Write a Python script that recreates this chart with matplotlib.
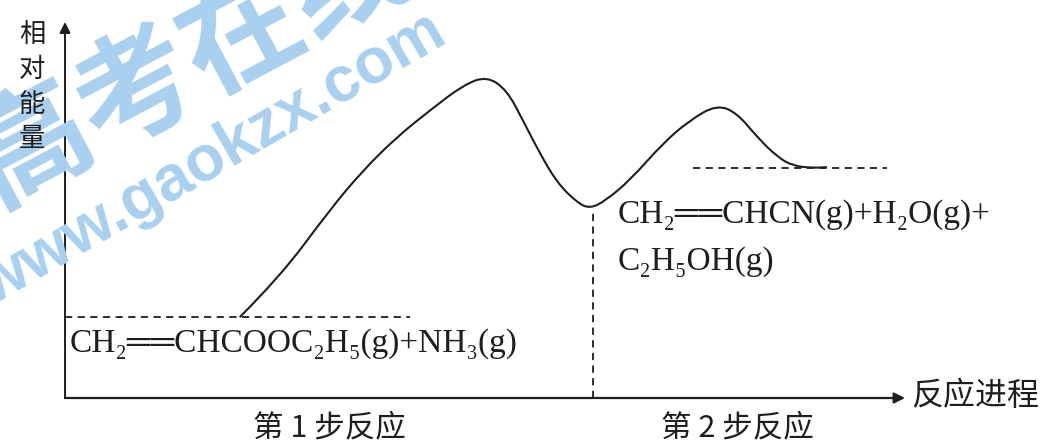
import matplotlib
matplotlib.use("Agg")
import matplotlib.pyplot as plt
from matplotlib.path import Path
from matplotlib.patches import PathPatch

# reaction progress (x) and relative energy (y), 0..100 units
progress = [20.8, 25.6, 31.5, 35.5, 39.5, 43.5, 47.4, 50.2, 52.6, 54.5, 56.5, 58.6,
            61.0, 62.5, 64.3, 67.3, 71.2, 74.4, 77.6, 80.0, 82.4, 84.8, 86.7, 89.0, 90.7]
energy = [21.5, 32.2, 50.0, 60.6, 69.4, 76.6, 83.2, 85.6, 81.9, 73.9, 65.2, 57.2,
          51.9, 50.4, 52.4, 58.0, 67.8, 73.9, 78.0, 75.8, 69.4, 64.1, 61.7, 61.2, 61.4]

reactant_level = 21.5
product_level = 61.2
intermediate_x = 62.9
intermediate_level = 50.0

reactant_label = "CH₂══CHCOOC₂H₅(g)+NH₃(g)"
product_label1 = "CH₂══CHCN(g)+H₂O(g)+"
product_label2 = "C₂H₅OH(g)"
step_labels = ["第 1 步反应", "第 2 步反应"]
step_x = [31.5, 80.0]
ylabel_chars = ["相", "对", "能", "量"]
xlabel = "反应进程"

ink = "#1e1e1e"
serif = ["Liberation Serif", "DejaVu Serif", "DejaVu Sans"]
cjk = ["Noto Sans CJK SC", "DejaVu Sans"]

fig = plt.figure(figsize=(10.53, 4.43), dpi=100)
fig.patch.set_facecolor("white")

# watermark
fig.text(0.18, 0.86, "高考在线", family=cjk, fontsize=86, fontweight="bold",
         color="#a9d0ef", rotation=28, ha="center", va="center",
         rotation_mode="anchor", zorder=0)
fig.text(0.201, 0.639, "www.gaokzx.com", family=["Liberation Sans", "DejaVu Sans"],
         fontsize=46, fontweight="bold", color="#a9d0ef", rotation=30,
         ha="center", va="center", rotation_mode="anchor", zorder=0)

ax = fig.add_axes([65 / 1053, 45 / 443, 840 / 1053, 376 / 443])
ax.set_xlim(0, 100)
ax.set_ylim(0, 100)
ax.axis("off")
ax.patch.set_alpha(0)

# axes with arrows
ax.annotate("", xy=(100, 0), xytext=(0, 0), annotation_clip=False,
            arrowprops=dict(arrowstyle="-|>", lw=1.6, color=ink, mutation_scale=16,
                            shrinkA=0, shrinkB=0))
ax.annotate("", xy=(0, 100), xytext=(0, 0), annotation_clip=False,
            arrowprops=dict(arrowstyle="-|>", lw=1.4, color=ink, mutation_scale=16,
                            shrinkA=0, shrinkB=0))

# smooth energy curve (quadratic bezier through midpoints)
pts = list(zip(progress, energy))
verts = [pts[0]]
codes = [Path.MOVETO]
for i in range(1, len(pts) - 1):
    mid = ((pts[i][0] + pts[i + 1][0]) / 2, (pts[i][1] + pts[i + 1][1]) / 2)
    verts += [pts[i], mid]
    codes += [Path.CURVE3, Path.CURVE3]
verts.append(pts[-1])
codes.append(Path.LINETO)
ax.add_patch(PathPatch(Path(verts, codes), fill=False, lw=1.5, edgecolor=ink,
                       clip_on=False))

# dashed guide lines
dash = dict(color=ink, lw=1.3, linestyle=(0, (4, 3)), clip_on=False)
ax.plot([0, 41.1], [reactant_level, reactant_level], **dash)
ax.plot([74.8, 97.9], [product_level, product_level], **dash)
ax.plot([intermediate_x, intermediate_x], [0, intermediate_level], **dash)

# labels
ax.text(0.6, 14.6, reactant_label, family=serif, fontsize=24, color=ink,
        ha="left", va="center")
ax.text(65.8, 48.7, product_label1, family=serif, fontsize=24, color=ink,
        ha="left", va="center")
ax.text(65.8, 36.2, product_label2, family=serif, fontsize=24, color=ink,
        ha="left", va="center")
for lab, x in zip(step_labels, step_x):
    ax.text(x, -8.0, lab, family=cjk, fontsize=22, color=ink, ha="center", va="center")
ax.text(100.8, 0.5, xlabel, family=cjk, fontsize=23, color=ink, ha="left", va="center")
for i, ch in enumerate(ylabel_chars):
    fig.text(32 / 1053, 1 - (34 + 35 * i) / 443, ch, family=cjk, fontsize=19,
             color=ink, ha="center", va="center")

fig.savefig("out.png", dpi=100)
